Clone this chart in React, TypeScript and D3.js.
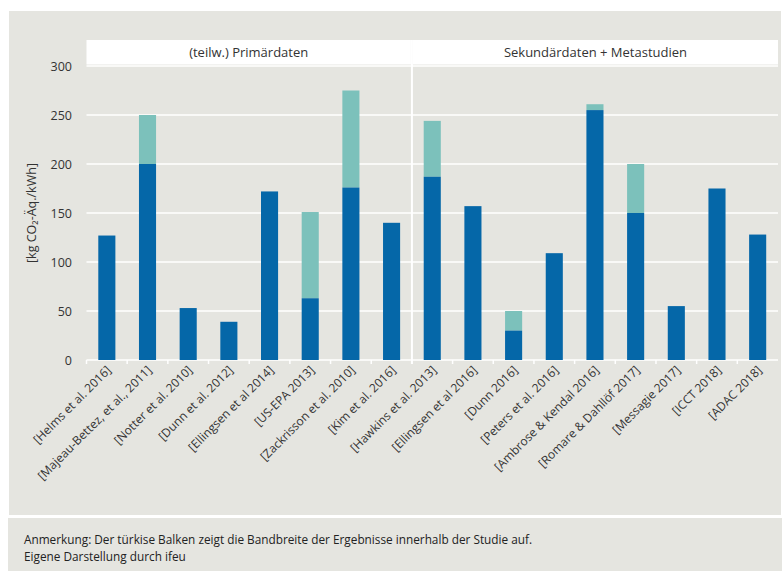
import React from "react";
import * as d3 from "d3";

const categories = [
  "[Helms et al. 2016]",
  "[Majeau-Bettez, et al., 2011]",
  "[Notter et al. 2010]",
  "[Dunn et al. 2012]",
  "[Ellingsen et al 2014]",
  "[US-EPA 2013]",
  "[Zackrisson et al. 2010]",
  "[Kim et al. 2016]",
  "[Hawkins et al. 2013]",
  "[Ellingsen et al 2016]",
  "[Dunn 2016]",
  "[Peters et al. 2016]",
  "[Ambrose & Kendal 2016]",
  "[Romare & Dahllöf 2017]",
  "[Messagie 2017]",
  "[ICCT 2018]",
  "[ADAC 2018]",
];
const panels = ["(teilw.) Primärdaten", "Sekundärdaten + Metastudien"];
const panelIndex = [0, 0, 0, 0, 0, 0, 0, 0, 1, 1, 1, 1, 1, 1, 1, 1, 1];
const baseValues = [127, 200, 53, 39, 172, 63, 176, 140, 187, 157, 30, 109, 255, 150, 55, 175, 128];
const rangeTop: (number | null)[] = [null, 250, null, null, null, 151, 275, null, 244, null, 50, null, 261, 200, null, null, null];
const yTicks = [0, 50, 100, 150, 200, 250, 300];
const yTitle = "[kg CO\u2082-\u00c4q./kWh]";
const notes = [
  "Anmerkung: Der türkise Balken zeigt die Bandbreite der Ergebnisse innerhalb der Studie auf.",
  "Eigene Darstellung durch ifeu",
];

const BG = "#e5e5e0";
const DARK = "#0567a8";
const LIGHT = "#7cc1bb";
const TXT = "#333333";
const FONT = "'Open Sans', 'DejaVu Sans', sans-serif";

export default function App() {
  const W = 782, H = 571;
  const left = 86.5, right = 778, top = 66, bottom = 360;
  const x = d3.scaleBand<string>().domain(categories).range([left, right]).paddingInner(0.58).paddingOuter(0.29);
  const y = d3.scaleLinear().domain([0, 300]).range([bottom, top]);
  const step = x.step();
  const splitIdx = panelIndex.findIndex((p) => p === 1);
  const splitX = left + splitIdx * step;
  const panelRanges = [
    [left, splitX - 1],
    [splitX + 1, right],
  ];

  return (
    <svg width={W} height={H} style={{ position: "absolute", left: 0, top: 0 }} fontFamily={FONT}>
      <rect x={0} y={0} width={W} height={H} fill="#ffffff" />
      <rect x={9} y={11} width={772} height={504} fill={BG} />
      <rect x={8} y={518} width={774} height={53} fill={BG} />

      {/* strips */}
      {panels.map((p, i) => (
        <g key={p}>
          <rect x={panelRanges[i][0]} y={40} width={panelRanges[i][1] - panelRanges[i][0]} height={24.5} fill="#ffffff" />
          <text x={(panelRanges[i][0] + panelRanges[i][1]) / 2} y={56.5} textAnchor="middle" fontSize={13} fill={TXT}>
            {p}
          </text>
        </g>
      ))}

      {/* gridlines */}
      {yTicks.map((t) => (
        <g key={t}>
          <line x1={left} x2={right} y1={y(t)} y2={y(t)} stroke="#ffffff" strokeWidth={1.5} />
          <text x={72} y={y(t) + 4.5} textAnchor="end" fontSize={12.5} fill={TXT}>
            {t}
          </text>
        </g>
      ))}

      {/* panel separator */}
      <line x1={splitX} x2={splitX} y1={40} y2={bottom + 4} stroke="#ffffff" strokeWidth={2} />

      {/* x ticks at band boundaries */}
      {categories.map((c, i) => (
        <line key={"t" + i} x1={left + i * step} x2={left + i * step} y1={bottom} y2={bottom + 4} stroke="#ffffff" strokeWidth={1.5} />
      ))}

      {/* bars */}
      {categories.map((c, i) => {
        const bx = x(c)!;
        const bw = x.bandwidth();
        const hi = rangeTop[i];
        return (
          <g key={c}>
            {hi !== null && (
              <rect x={bx} y={y(hi)} width={bw} height={y(baseValues[i]) - y(hi)} fill={LIGHT} />
            )}
            <rect x={bx} y={y(baseValues[i])} width={bw} height={y(0) - y(baseValues[i])} fill={DARK} />
          </g>
        );
      })}

      {/* x labels */}
      {categories.map((c) => {
        const cx = x(c)! + x.bandwidth() / 2;
        return (
          <text
            key={"l" + c}
            transform={`translate(${cx - 1},${365}) rotate(-45)`}
            textAnchor="end"
            dy="0.7em"
            fontSize={12}
            fill={TXT}
          >
            {c}
          </text>
        );
      })}

      {/* y title */}
      <text transform={`translate(${36},${(top + bottom) / 2}) rotate(-90)`} textAnchor="middle" fontSize={12.5} fill={TXT}>
        {yTitle}
      </text>

      {/* notes */}
      {notes.map((n, i) => (
        <text key={n} x={24} y={544 + i * 16.5} fontSize={11.8} fill="#222222">
          {n}
        </text>
      ))}
    </svg>
  );
}
